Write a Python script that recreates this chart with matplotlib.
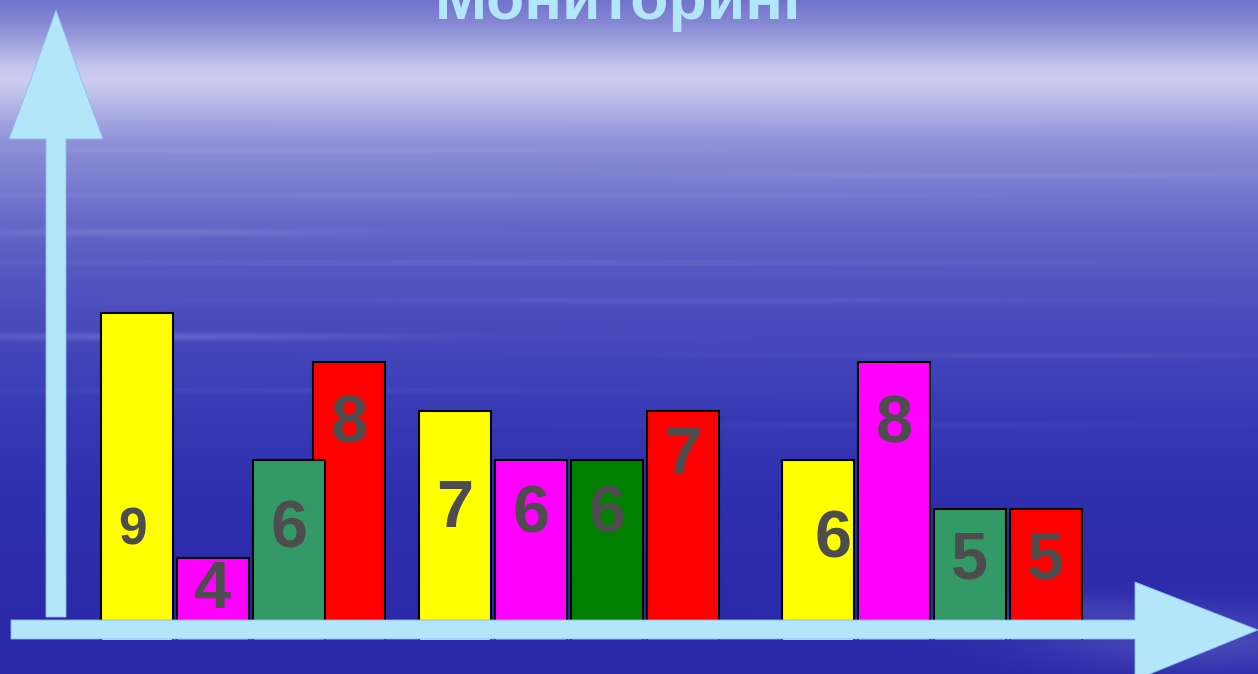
import numpy as np
import matplotlib
matplotlib.use("Agg")
import matplotlib.pyplot as plt
from matplotlib.patches import Polygon
from matplotlib.colors import to_rgb

# ---------------- data ----------------
title = "Мониторинг"
group1_values = [9, 4, 6, 8]
group2_values = [7, 6, 6, 7]
group3_values = [6, 8, 5, 5]
group1_colors = ["#FFFF00", "#FF00FF", "#339966", "#FF0000"]
group2_colors = ["#FFFF00", "#FF00FF", "#008000", "#FF0000"]
group3_colors = ["#FFFF00", "#FF00FF", "#339966", "#FF0000"]

# ---------------- layout ----------------
W, H = 1258, 674
group_pos = [0.0, 4.18, 8.96]
series_offset = [0.0, 1.0, 2.0, 2.79]
series_offset_other = [0.0, 1.0, 2.0, 3.0]
bar_width = 0.947
# label offsets (pixels below bar top to baseline, horizontal nudge)
label_dy = [[232, 50, 88, 81], [116, 73, 73, 62], [98, 81, 70, 70]]
label_dx = [[-4, 0, 0, 0], [0, 0, 0, 0], [15, 0, 0, 0]]
label_size = [[37, 48, 48, 48], [48, 48, 48, 48], [48, 48, 48, 48]]

fig = plt.figure(figsize=(W / 100, H / 100), dpi=100)

# ---------------- background ----------------
stops_y = [0, 20, 45, 65, 80, 95, 115, 140, 180, 220, 270, 330, 400, 470, 550, 674]
stops_c = ["#7274CC", "#8385D2", "#A5A6DF", "#C4C5EC", "#CBCCEE", "#C0C1EA",
           "#A9AAE2", "#8F91D8", "#7B7DD0", "#6769C8", "#5557C2", "#4749BC",
           "#3A3CB5", "#3032B0", "#2C2CAD", "#2828A8"]
rgb = np.array([to_rgb(c) for c in stops_c])
yy = np.arange(H)
col = np.stack([np.interp(yy, stops_y, rgb[:, k]) for k in range(3)], axis=1)
img = np.repeat(col[:, None, :], W, axis=1)
X, Y = np.meshgrid(np.arange(W), np.arange(H))
streaks = [(120, 900, 400, 4, 0.08), (150, 300, 350, 3, 0.10), (175, 1000, 300, 3, 0.10),
           (195, 400, 500, 3, 0.10), (232, 150, 200, 4, 0.14), (262, 500, 600, 3, 0.08),
           (300, 700, 450, 3, 0.08), (336, 150, 260, 4, 0.18), (355, 1050, 300, 3, 0.08),
           (390, 300, 300, 3, 0.06), (425, 900, 350, 3, 0.05), (640, 1200, 160, 30, 0.18),
           (610, 1060, 120, 15, 0.10)]
white = np.array([0.85, 0.85, 1.0])
for sy, sx, sl, st, a in streaks:
    w = a * np.exp(-((Y - sy) / st) ** 2) * np.exp(-((X - sx) / sl) ** 2)
    img = img * (1 - w[..., None]) + white * w[..., None]
bg = fig.add_axes([0, 0, 1, 1], zorder=0)
bg.imshow(img, extent=(0, W, H, 0), aspect="auto", interpolation="bilinear")
bg.set_xlim(0, W)
bg.set_ylim(H, 0)
bg.axis("off")

# ---------------- bars ----------------
ax = fig.add_axes([0, (H - 640) / H, 1, 640 / H], zorder=1)
ax.patch.set_visible(False)
ax.set_xlim(-137 / 76, (W - 137) / 76)
ax.set_ylim(2.32, 15.39)
ax.axis("off")

groups = [group1_values, group2_values, group3_values]
colors = [group1_colors, group2_colors, group3_colors]
for g, (vals, cols) in enumerate(zip(groups, colors)):
    offs = series_offset if g == 0 else series_offset_other
    order = [0, 1, 3, 2]  # green drawn over red
    for s in order:
        x = group_pos[g] + offs[s]
        ax.bar(x, vals[s], width=bar_width, color=cols[s], edgecolor="black",
               linewidth=1.5, zorder=2 + (1 if s == 2 else 0))
    for s in range(4):
        x = group_pos[g] + offs[s]
        ax.annotate(str(vals[s]), xy=(x, vals[s]),
                    xytext=(label_dx[g][s], -label_dy[g][s]),
                    textcoords="offset pixels", ha="center", va="baseline",
                    fontsize=label_size[g][s], fontweight="bold",
                    family="Liberation Sans", color="#4D4D4D", zorder=5)

# ---------------- arrows ----------------
ov = fig.add_axes([0, 0, 1, 1], zorder=2)
ov.patch.set_visible(False)
ov.set_xlim(0, W)
ov.set_ylim(H, 0)
ov.axis("off")
arrow_color = "#B4E6FA"
v_arrow = [(46, 617), (46, 139), (9, 139), (56, 10), (103, 139), (66, 139), (66, 617)]
h_arrow = [(11, 620), (1135, 620), (1135, 582), (1258, 630), (1135, 680),
           (1135, 639), (11, 639)]
for pts in (v_arrow, h_arrow):
    ov.add_patch(Polygon(pts, closed=True, facecolor=arrow_color,
                         edgecolor="#8FB8EE", linewidth=0.6))

fig.text(622 / W, 1 - 19 / H, title, ha="center", va="baseline", fontsize=45,
         fontweight="bold", family="Liberation Sans", color=arrow_color, zorder=4)

fig.savefig("out.png", dpi=100)
